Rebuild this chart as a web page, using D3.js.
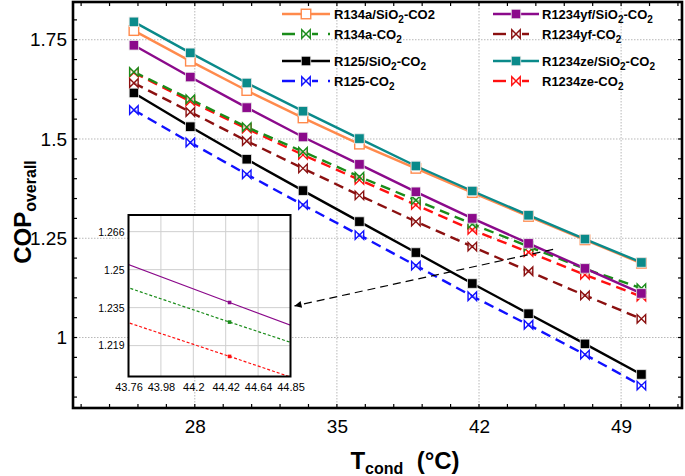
<!DOCTYPE html>
<html><head><meta charset="utf-8">
<script src="https://cdn.jsdelivr.net/npm/d3@7"></script>
<style>
html,body{margin:0;padding:0;background:#fff;}
svg{display:block;font-family:"Liberation Sans",Arial,sans-serif;}
</style></head>
<body><svg id="c" width="685" height="476"></svg>
<script>
// ---------- data ----------
const tcond = [25, 27.78, 30.56, 33.33, 36.11, 38.89, 41.67, 44.44, 47.22, 50];
const r134aSiO2   = [1.773,1.696,1.622,1.553,1.487,1.426,1.365,1.305,1.246,1.187];
const r134aCO2    = [1.669,1.600,1.530,1.468,1.405,1.346,1.286,1.229,1.173,1.124];
const r125SiO2    = [1.616,1.531,1.449,1.370,1.292,1.214,1.136,1.060,0.984,0.907];
const r125CO2     = [1.573,1.491,1.411,1.334,1.258,1.181,1.104,1.032,0.957,0.879];
const r1234yfSiO2 = [1.736,1.656,1.579,1.505,1.436,1.367,1.300,1.237,1.174,1.111];
const r1234yfCO2  = [1.641,1.568,1.495,1.426,1.358,1.292,1.229,1.167,1.106,1.047];
const r1234zeSiO2 = [1.795,1.717,1.641,1.570,1.501,1.432,1.369,1.308,1.248,1.189];
const r1234zeCO2  = [1.667,1.595,1.526,1.460,1.397,1.334,1.271,1.215,1.158,1.103];

const xTicks = [28, 35, 42, 49];
const yTicks = [1, 1.25, 1.5, 1.75];
const yTickLabels = ["1", "1.25", "1.5", "1.75"];
const insetXTicks = [43.76, 43.978, 44.196, 44.414, 44.632, 44.85];
const insetXLabels = ["43.76", "43.98", "44.2", "44.42", "44.64", "44.85"];
const insetYTicks = [1.2194, 1.2349, 1.2504, 1.2659];
const insetYLabels = ["1.219", "1.235", "1.25", "1.266"];
const insetSeries = ["R1234yf/SiO2-CO2", "R134a-CO2", "R1234ze-CO2"];
const arrowFrom = [45.65, 1.222];   // main data coords
const arrowToInsetY = 1.2356;       // inset value at the right edge

// ---------- series styles ----------
const series = [
  {name:"R125-CO2",        label:["R125-CO","2",""],            v:r125CO2,     color:"#1010ff", dash:true,  marker:"bow"},
  {name:"R125/SiO2-CO2",   label:["R125/SiO","2","-CO","2"],    v:r125SiO2,    color:"#000000", dash:false, marker:"sq"},
  {name:"R1234yf-CO2",     label:["R1234yf-CO","2"],            v:r1234yfCO2,  color:"#8b1010", dash:true,  marker:"bow"},
  {name:"R1234ze-CO2",     label:["R1234ze-CO","2"],            v:r1234zeCO2,  color:"#ff1010", dash:true,  marker:"bow"},
  {name:"R134a-CO2",       label:["R134a-CO","2"],              v:r134aCO2,    color:"#1a8c1a", dash:true,  marker:"bow"},
  {name:"R1234yf/SiO2-CO2",label:["R1234yf/SiO","2","-CO","2"], v:r1234yfSiO2, color:"#8b0a8b", dash:false, marker:"sq"},
  {name:"R134a/SiO2-CO2",  label:["R134a/SiO","2","-CO2"],      v:r134aSiO2,   color:"#ff8a4c", dash:false, marker:"osq"},
  {name:"R1234ze/SiO2-CO2",label:["R1234ze/SiO","2","-CO","2"], v:r1234zeSiO2, color:"#0a8a8a", dash:false, marker:"sq"}
];
const byName = Object.fromEntries(series.map(s => [s.name, s]));
const legendCols = [
  ["R134a/SiO2-CO2","R134a-CO2","R125/SiO2-CO2","R125-CO2"],
  ["R1234yf/SiO2-CO2","R1234yf-CO2","R1234ze/SiO2-CO2","R1234ze-CO2"]
];

// ---------- layout ----------
const svg = d3.select("#c");
const L = 73, R = 682, T = 2, B = 408;
const x = d3.scaleLinear().domain([22, 52]).range([L, R]);
const y = d3.scaleLinear().domain([0.8225, 1.845]).range([B, T]);

svg.append("defs").append("clipPath").attr("id","clipMain")
  .append("rect").attr("x",L).attr("y",T).attr("width",R-L).attr("height",B-T);

// grid
const grid = svg.append("g");
grid.selectAll("line.gx").data(xTicks).join("line")
  .attr("x1", d=>x(d)).attr("x2", d=>x(d)).attr("y1",T).attr("y2",B)
  .attr("stroke","#b8b8b8").attr("stroke-width",1).attr("stroke-dasharray","1.5,1.5");
grid.selectAll("line.gy").data(yTicks).join("line")
  .attr("y1", d=>y(d)).attr("y2", d=>y(d)).attr("x1",L).attr("x2",R)
  .attr("stroke","#b8b8b8").attr("stroke-width",1).attr("stroke-dasharray","1.5,1.5");

// marker drawing
function drawMarker(g, type, color, s) {
  if (type === "sq" || type === "osq") {
    g.append("rect").attr("x",-s/2).attr("y",-s/2).attr("width",s).attr("height",s)
      .attr("fill", type==="sq" ? color : "#fff")
      .attr("stroke", type==="sq" ? "#e8e8e8" : color)
      .attr("stroke-width", type==="sq" ? 0.8 : 1.4);
  } else {
    const h = s/2;
    g.append("path").attr("d",`M${-h},${-h}L${-h},${h}L${h},${-h}L${h},${h}Z`)
      .attr("fill","#fff").attr("fill-opacity",0.6).attr("stroke",color).attr("stroke-width",1.4);
  }
}

// series lines + markers
const plot = svg.append("g").attr("clip-path","url(#clipMain)");
series.forEach(s => {
  const line = d3.line().x((d,i)=>x(tcond[i])).y(d=>y(d));
  plot.append("path").datum(s.v).attr("d", line)
    .attr("fill","none").attr("stroke", s.color).attr("stroke-width", 2.4)
    .attr("stroke-dasharray", s.dash ? "10,6" : null);
});
series.forEach(s => {
  s.v.forEach((d,i) => {
    const g = plot.append("g").attr("transform",`translate(${x(tcond[i])},${y(d)})`);
    drawMarker(g, s.marker, s.color, s.marker==="bow" ? 8.5 : 9.5);
  });
});

// frame ticks (inside)
const xMinor = d3.range(22.4, 52, 1.4);
const yMinor = d3.range(0.85, 1.84, 0.05);
const ticks = svg.append("g").attr("stroke","#000").attr("stroke-width",1.2);
xMinor.forEach(v => {
  ticks.append("line").attr("x1",x(v)).attr("x2",x(v)).attr("y1",B).attr("y2",B-4);
  ticks.append("line").attr("x1",x(v)).attr("x2",x(v)).attr("y1",T).attr("y2",T+4);
});
yMinor.forEach(v => {
  ticks.append("line").attr("y1",y(v)).attr("y2",y(v)).attr("x1",L).attr("x2",L+4);
  ticks.append("line").attr("y1",y(v)).attr("y2",y(v)).attr("x1",R).attr("x2",R-4);
});

svg.append("rect").attr("x",L).attr("y",T).attr("width",R-L).attr("height",B-T)
  .attr("fill","none").attr("stroke","#000").attr("stroke-width",2.6);

// tick labels via axes
const xAxis = svg.append("g").attr("transform",`translate(0,${B})`)
  .call(d3.axisBottom(x).tickValues(xTicks).tickSize(0).tickPadding(12).tickFormat(d3.format("d")));
xAxis.select(".domain").remove();
xAxis.selectAll("text").attr("font-size",19).attr("fill","#000").attr("font-family","Liberation Sans, Arial");
const yAxis = svg.append("g").attr("transform",`translate(${L},0)`)
  .call(d3.axisLeft(y).tickValues(yTicks).tickSize(0).tickPadding(6).tickFormat((d,i)=>yTickLabels[i]));
yAxis.select(".domain").remove();
yAxis.selectAll("text").attr("font-size",19).attr("fill","#000").attr("font-family","Liberation Sans, Arial");

// axis titles
const xt = svg.append("text").attr("x",405).attr("y",469).attr("text-anchor","middle")
  .attr("font-weight","bold").attr("font-size",24).attr("fill","#000");
xt.append("tspan").text("T");
xt.append("tspan").attr("font-size",16).attr("dy",5).text("cond");
xt.append("tspan").attr("dy",-5).text("\u00a0\u00a0(°C)");

const yt = svg.append("text").attr("transform","translate(31,212) rotate(-90)").attr("text-anchor","middle")
  .attr("font-weight","bold").attr("font-size",24).attr("fill","#000");
yt.append("tspan").text("COP");
yt.append("tspan").attr("font-size",16).attr("dy",5).text("overall");

// legend
const legX = [[282,330,334],[493,539,542]];
const legY = [14, 34, 61, 81];
legendCols.forEach((col, ci) => {
  col.forEach((nm, ri) => {
    const s = byName[nm];
    const yy = legY[ri];
    const [x0,x1,tx] = legX[ci];
    svg.append("line").attr("x1",x0).attr("x2",x1).attr("y1",yy).attr("y2",yy)
      .attr("stroke",s.color).attr("stroke-width",2.4)
      .attr("stroke-dasharray", s.dash ? "13,10" : null);
    const g = svg.append("g").attr("transform",`translate(${(x0+x1)/2},${yy})`);
    if (s.dash) g.append("rect").attr("x",-6).attr("y",-5).attr("width",12).attr("height",10).attr("fill","#fff");
    drawMarker(g, s.marker, s.color, s.marker==="bow" ? 8.5 : 9.5);
    const t = svg.append("text").attr("x",tx).attr("y",yy+5).attr("font-weight","bold")
      .attr("font-size",13).attr("fill","#000");
    s.label.forEach((part, pi) => {
      if (pi % 2 === 0) t.append("tspan").attr("dy", pi===0?0:-4).text(part);
      else t.append("tspan").attr("font-size",10).attr("dy",4).text(part);
    });
  });
});

// ---------- inset ----------
const IL = 128.5, IR = 290.5, IT = 215, IB = 376.5;
const xi = d3.scaleLinear().domain([43.76, 44.85]).range([IL, IR]);
const yi = d3.scaleLinear().domain([1.2068, 1.2727]).range([IB, IT]);
svg.select("defs").append("clipPath").attr("id","clipInset")
  .append("rect").attr("x",IL).attr("y",IT).attr("width",IR-IL).attr("height",IB-IT);
const inset = svg.append("g");
inset.append("rect").attr("x",IL).attr("y",IT).attr("width",IR-IL).attr("height",IB-IT).attr("fill","#fff");
inset.selectAll("line.igx").data(insetXTicks.slice(1,-1)).join("line")
  .attr("x1",d=>xi(d)).attr("x2",d=>xi(d)).attr("y1",IT).attr("y2",IB)
  .attr("stroke","#cfcfcf").attr("stroke-width",1);
inset.selectAll("line.igy").data(insetYTicks).join("line")
  .attr("y1",d=>yi(d)).attr("y2",d=>yi(d)).attr("x1",IL).attr("x2",IR)
  .attr("stroke","#cfcfcf").attr("stroke-width",1);
const ip = inset.append("g").attr("clip-path","url(#clipInset)");
insetSeries.forEach(nm => {
  const s = byName[nm];
  const line = d3.line().x((d,i)=>xi(tcond[i])).y(d=>yi(d));
  ip.append("path").datum(s.v).attr("d", line).attr("fill","none")
    .attr("stroke",s.color).attr("stroke-width",1.2)
    .attr("stroke-dasharray", s.dash ? "3,2" : null);
  s.v.forEach((d,i) => {
    ip.append("rect").attr("x",xi(tcond[i])-1.8).attr("y",yi(d)-1.8).attr("width",3.6).attr("height",3.6)
      .attr("fill",s.color);
  });
});
inset.append("rect").attr("x",IL).attr("y",IT).attr("width",IR-IL).attr("height",IB-IT)
  .attr("fill","none").attr("stroke","#000").attr("stroke-width",2);
const ixa = inset.append("g").attr("transform",`translate(0,${IB})`)
  .call(d3.axisBottom(xi).tickValues(insetXTicks).tickSize(0).tickPadding(7).tickFormat((d,i)=>insetXLabels[i]));
ixa.select(".domain").remove();
ixa.selectAll("text").attr("font-size",11).attr("fill","#000").attr("font-family","Liberation Sans, Arial");
const iya = inset.append("g").attr("transform",`translate(${IL},0)`)
  .call(d3.axisLeft(yi).tickValues(insetYTicks).tickSize(0).tickPadding(4).tickFormat((d,i)=>insetYLabels[i]));
iya.select(".domain").remove();
iya.selectAll("text").attr("font-size",10.5).attr("fill","#000").attr("font-family","Liberation Sans, Arial");

// arrow
svg.select("defs").append("marker").attr("id","ah").attr("viewBox","0 0 10 10")
  .attr("refX",10).attr("refY",5).attr("markerWidth",9).attr("markerHeight",7)
  .attr("markerUnits","userSpaceOnUse").attr("orient","auto")
  .append("path").attr("d","M0,0L10,5L0,10Z").attr("fill","#000");
svg.append("line")
  .attr("x1", x(arrowFrom[0])).attr("y1", y(arrowFrom[1]))
  .attr("x2", IR + 4).attr("y2", yi(arrowToInsetY))
  .attr("stroke","#000").attr("stroke-width",1.2).attr("stroke-dasharray","8,5")
  .attr("marker-end","url(#ah)");
</script></body></html>
